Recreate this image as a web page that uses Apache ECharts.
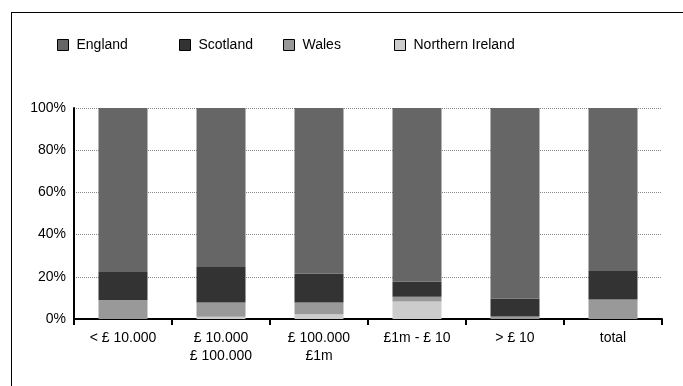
<!DOCTYPE html>
<html>
<head>
<meta charset="utf-8">
<script src="https://cdn.jsdelivr.net/npm/echarts@6/dist/echarts.min.js"></script>
<style>
  html, body { margin: 0; padding: 0; background: #fff; }
  #chart { width: 683px; height: 386px; }
</style>
</head>
<body>
<div id="chart"></div>
<script>
  // categories (x axis)
  var categories = ['< £ 10.000', '£ 10.000\n£ 100.000', '£ 100.000\n£1m', '£1m - £ 10', '> £ 10', 'total'];
  // shares in % (stacked bottom -> top: NI, Wales, Scotland, England)
  var northernIreland = [0, 1.1, 2.2, 8.3, 0, 0];
  var wales = [9.0, 6.7, 5.6, 2.2, 1.2, 9.2];
  var scotland = [13.3, 16.9, 13.6, 7.2, 8.5, 13.6];
  var england = [77.7, 75.3, 78.6, 82.3, 90.3, 77.2];
  var yTicks = [0, 20, 40, 60, 80, 100];

  var font = "'Liberation Sans', Arial, sans-serif";

  function legendAt(name, left) {
    return {
      data: [name],
      left: left,
      top: 38,
      padding: 0,
      icon: 'rect',
      itemWidth: 11,
      itemHeight: 11,
      itemGap: 0,
      itemStyle: { borderColor: '#000', borderWidth: 1 },
      textStyle: { fontFamily: font, fontSize: 14, color: '#000', padding: [0, 0, 0, 3] }
    };
  }

  var chart = echarts.init(document.getElementById('chart'));
  chart.setOption({
    animation: false,
    backgroundColor: '#fff',
    legend: [
      legendAt('England', 57),
      legendAt('Scotland', 179),
      legendAt('Wales', 283),
      legendAt('Northern Ireland', 394)
    ],
    grid: { left: 74, right: 21, top: 108, bottom: 67, containLabel: false },
    xAxis: {
      type: 'category',
      data: categories,
      axisLine: { lineStyle: { color: '#000', width: 2 } },
      axisTick: { show: true, alignWithLabel: false, length: 6, lineStyle: { color: '#000', width: 2 } },
      axisLabel: { color: '#000', fontFamily: font, fontSize: 14, lineHeight: 18, margin: 10, interval: 0 }
    },
    yAxis: {
      type: 'value',
      min: yTicks[0],
      max: yTicks[yTicks.length - 1],
      interval: 20,
      axisLine: { show: true, lineStyle: { color: '#000', width: 2 } },
      axisTick: { show: false },
      axisLabel: { color: '#000', fontFamily: font, fontSize: 14, margin: 8, formatter: '{value}%' },
      splitLine: { show: true, lineStyle: { color: '#888', type: 'dotted', width: 1 } }
    },
    series: [
      { name: 'Northern Ireland', type: 'bar', stack: 'all', data: northernIreland, barWidth: '50%', itemStyle: { color: '#cccccc' } },
      { name: 'Wales', type: 'bar', stack: 'all', data: wales, barWidth: '50%', itemStyle: { color: '#999999' } },
      { name: 'Scotland', type: 'bar', stack: 'all', data: scotland, barWidth: '50%', itemStyle: { color: '#333333' } },
      { name: 'England', type: 'bar', stack: 'all', data: england, barWidth: '50%', itemStyle: { color: '#666666' } }
    ],
    graphic: [
      { type: 'line', shape: { x1: 11, y1: 12.5, x2: 683, y2: 12.5 }, style: { stroke: '#000', lineWidth: 1 }, silent: true },
      { type: 'line', shape: { x1: 11.5, y1: 12, x2: 11.5, y2: 386 }, style: { stroke: '#000', lineWidth: 1 }, silent: true }
    ]
  });
</script>
</body>
</html>
